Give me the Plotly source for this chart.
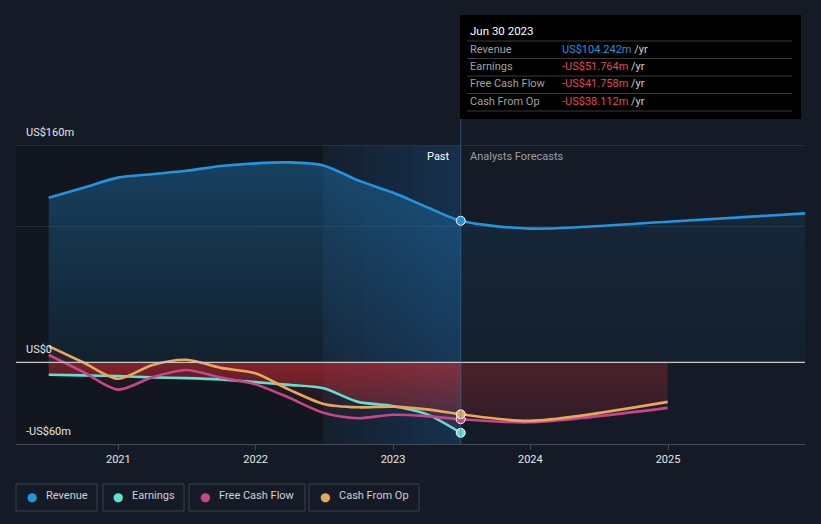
import plotly.graph_objects as go
import datetime as _dt

# ---------------- data ----------------
past_dates = ["2020-06-30", "2020-09-30", "2020-12-31", "2021-03-31", "2021-06-30",
              "2021-09-30", "2021-12-31", "2022-03-31", "2022-06-30", "2022-09-30",
              "2022-12-31", "2023-03-31", "2023-06-30"]
revenue_past = [121.2, 128.5, 136.0, 138.5, 141.0, 144.5, 146.5, 147.2, 145.0, 134.0,
                125.0, 114.5, 104.242]
earnings_past = [-9.0, -9.5, -10.0, -11.0, -11.5, -12.5, -14.5, -16.5, -19.0, -29.0,
                 -32.0, -38.0, -51.764]
fcf_past = [5.5, -7.0, -20.0, -11.0, -5.5, -11.0, -16.0, -26.0, -37.0, -41.0,
            -38.5, -39.5, -41.758]
cfo_past = [12.0, 0.0, -12.0, -2.0, 2.0, -4.0, -8.0, -20.0, -30.5, -33.0,
            -32.5, -34.5, -38.112]

rev_fc_dates = ["2023-06-30", "2023-12-31", "2024-12-31", "2025-12-31"]
revenue_fc = [104.242, 98.5, 103.5, 109.7]
cf_fc_dates = ["2023-06-30", "2023-12-31", "2024-12-31"]
fcf_fc = [-41.758, -44.0, -33.4]
cfo_fc = [-38.112, -43.0, -29.0]

year_ticks = ["2021-01-01", "2022-01-01", "2023-01-01", "2024-01-01", "2025-01-01"]
year_labels = ["2021", "2022", "2023", "2024", "2025"]
y_labels = [(160, "US$160m"), (0, "US$0"), (-60, "-US$60m")]

tooltip_date = "Jun 30 2023"
tooltip_rows = [("Revenue", "US$104.242m", "#2394df"),
                ("Earnings", "-US$51.764m", "#e5484d"),
                ("Free Cash Flow", "-US$41.758m", "#e5484d"),
                ("Cash From Op", "-US$38.112m", "#e5484d")]
legend_items = [("Revenue", "#2394df"), ("Earnings", "#5fe0d2"),
                ("Free Cash Flow", "#c8458a"), ("Cash From Op", "#e8a85a")]

C_REV, C_EARN, C_FCF, C_CFO = "#2394df", "#5fe0d2", "#c8458a", "#e8a85a"
BG = "#151b26"
FONT = "Roboto"

# ---------------- geometry helpers ----------------
W, H = 821, 524
L, R, T, B = 16, 805, 145, 444


def px(x):
    return (x - L) / (R - L)


def py(y):
    return (B - y) / (B - T)


X_RANGE = ["2020-04-04", "2025-12-31"]
Y_RANGE = [-60, 160]

fig = go.Figure()


def fill_trace(x, y, rgb, a_top, a_bot, start, stop):
    fig.add_trace(go.Scatter(
        x=x, y=y, mode="lines", line=dict(width=0, shape="spline", smoothing=0.8),
        fill="tozeroy",
        fillgradient=dict(type="vertical", start=start, stop=stop,
                          colorscale=[[0, f"rgba({rgb},{a_bot})"], [1, f"rgba({rgb},{a_top})"]]),
        hoverinfo="skip", showlegend=False))


# fills
fill_trace(past_dates, revenue_past, "35,148,223", 0.34, 0.08, 0, 150)
fill_trace(rev_fc_dates, revenue_fc, "35,148,223", 0.12, 0.04, 0, 150)
fill_trace(past_dates, earnings_past, "220,45,50", 0.45, 0.05, -60, 0)
fill_trace(past_dates, fcf_past, "220,45,50", 0.10, 0.0, -60, 0)
fill_trace(past_dates, cfo_past, "220,45,50", 0.10, 0.0, -60, 0)
fill_trace(cf_fc_dates, fcf_fc, "220,45,50", 0.16, 0.04, -60, 0)
fill_trace(cf_fc_dates, cfo_fc, "220,45,50", 0.14, 0.04, -60, 0)


def line_trace(x, y, color):
    fig.add_trace(go.Scatter(x=x, y=y, mode="lines",
                             line=dict(color=color, width=2.6, shape="spline", smoothing=0.8),
                             hoverinfo="skip", showlegend=False))


line_trace(past_dates, earnings_past, C_EARN)
line_trace(past_dates + cf_fc_dates[1:], fcf_past + fcf_fc[1:], C_FCF)
line_trace(past_dates + cf_fc_dates[1:], cfo_past + cfo_fc[1:], C_CFO)
line_trace(past_dates + rev_fc_dates[1:], revenue_past + revenue_fc[1:], C_REV)

# hover markers
for val, col in [(revenue_past[-1], C_REV), (fcf_past[-1], C_FCF),
                 (cfo_past[-1], C_CFO), (earnings_past[-1], C_EARN)]:
    fig.add_trace(go.Scatter(x=[past_dates[-1]], y=[val], mode="markers",
                             marker=dict(color=col, size=9, line=dict(color="#ffffff", width=1)),
                             hoverinfo="skip", showlegend=False))

shapes = []
shapes.append(dict(type="rect", xref="x", yref="paper", x0=X_RANGE[0], x1="2022-06-30",
                   y0=0, y1=1, fillcolor="rgba(0,0,0,0.16)", line=dict(width=0), layer="below"))
d0 = _dt.date(2022, 6, 30)
d1 = _dt.date(2023, 6, 30)
n = 14
span = (d1 - d0).days
for i in range(n):
    a = 0.07 + (0.30 - 0.07) * i / (n - 1)
    s = d0 + _dt.timedelta(days=span * i / n)
    e = d0 + _dt.timedelta(days=span * (i + 1) / n)
    shapes.append(dict(type="rect", xref="x", yref="paper", x0=s.isoformat(), x1=e.isoformat(),
                       y0=0, y1=1, fillcolor=f"rgba(25,100,170,{a:.3f})",
                       line=dict(width=0), layer="below"))
shapes.append(dict(type="line", xref="paper", yref="y", x0=0, x1=1, y0=160, y1=160,
                   line=dict(color="#3a404a", width=1), layer="below"))
shapes.append(dict(type="line", xref="paper", yref="y", x0=0, x1=1, y0=100, y1=100,
                   line=dict(color="rgba(120,140,160,0.18)", width=1), layer="below"))
shapes.append(dict(type="line", xref="paper", yref="y", x0=0, x1=1, y0=0, y1=0,
                   line=dict(color="#c9c9c9", width=1.2), layer="above"))
shapes.append(dict(type="line", xref="x", yref="paper", x0="2023-06-30", x1="2023-06-30",
                   y0=0, y1=py(15), line=dict(color="rgba(70,120,160,0.55)", width=1), layer="above"))
shapes.append(dict(type="rect", xref="paper", yref="paper", x0=px(460), x1=px(801),
                   y0=py(119), y1=py(15), fillcolor="#000000", line=dict(width=0), layer="above"))
for sy in [41, 58.5, 76, 93.5, 111]:
    shapes.append(dict(type="line", xref="paper", yref="paper", x0=px(467), x1=px(792),
                       y0=py(sy), y1=py(sy), line=dict(color="#3a3a3a", width=1), layer="above"))
legend_boxes = [(16, 97), (103, 184), (189, 305), (309, 419)]
for (x0, x1) in legend_boxes:
    shapes.append(dict(type="rect", xref="paper", yref="paper", x0=px(x0), x1=px(x1),
                       y0=py(511), y1=py(484), line=dict(color="#3b414c", width=1),
                       fillcolor="rgba(0,0,0,0)", layer="above"))

ann = []
for v, t in y_labels:
    ann.append(dict(xref="paper", yref="y", x=px(24), y=v, yshift=13, text=t,
                    showarrow=False, xanchor="left", yanchor="middle",
                    font=dict(family=FONT, size=11, color="#e6e6e6")))
ann.append(dict(xref="paper", yref="paper", x=px(452), y=py(156), text="Past", showarrow=False,
                xanchor="right", yanchor="middle", font=dict(family=FONT, size=11, color="#ffffff")))
ann.append(dict(xref="paper", yref="paper", x=px(468), y=py(156), text="Analysts Forecasts",
                showarrow=False, xanchor="left", yanchor="middle",
                font=dict(family=FONT, size=11, color="#9a9ea5")))
ann.append(dict(xref="paper", yref="paper", x=px(468), y=py(31), text=tooltip_date, showarrow=False,
                xanchor="left", yanchor="middle", font=dict(family=FONT, size=11.5, color="#ffffff")))
row_y = [49.5, 66.5, 84, 101.5]
for (lab, val, col), yy in zip(tooltip_rows, row_y):
    ann.append(dict(xref="paper", yref="paper", x=px(468), y=py(yy), text=lab, showarrow=False,
                    xanchor="left", yanchor="middle", font=dict(family=FONT, size=11, color="#a0a0a0")))
    ann.append(dict(xref="paper", yref="paper", x=px(560), y=py(yy),
                    text=f"<span style='color:{col}'>{val}</span> <span style='color:#d0d0d0'>/yr</span>",
                    showarrow=False, xanchor="left", yanchor="middle",
                    font=dict(family=FONT, size=11, color=col)))
dots_x = [32, 118, 205, 325]
for (lab, col), dx in zip(legend_items, dots_x):
    ann.append(dict(xref="paper", yref="paper", x=px(dx), y=py(496.5), text="●", showarrow=False,
                    xanchor="center", yanchor="middle", font=dict(family="DejaVu Sans", size=12, color=col)))
    ann.append(dict(xref="paper", yref="paper", x=px(dx + 12), y=py(496), text=lab, showarrow=False,
                    xanchor="left", yanchor="middle", font=dict(family=FONT, size=11, color="#cdd1d8")))

fig.update_layout(
    width=W, height=H,
    margin=dict(l=L, r=W - R, t=T, b=H - B),
    paper_bgcolor=BG, plot_bgcolor=BG,
    showlegend=False, hovermode=False,
    shapes=shapes, annotations=ann,
    xaxis=dict(type="date", range=X_RANGE, showgrid=False, zeroline=False,
               tickmode="array", tickvals=year_ticks, ticktext=year_labels,
               ticks="outside", ticklen=5, tickcolor="#454b56", showline=True,
               linecolor="#454b56", linewidth=1,
               tickfont=dict(family=FONT, size=11, color="#e6e6e6")),
    yaxis=dict(range=Y_RANGE, showgrid=False, zeroline=False, showticklabels=False,
               fixedrange=True),
)

fig.write_html("out.html", config={"displayModeBar": False},
               post_script="document.body.style.margin='0px';document.body.style.background='%s';" % BG)
